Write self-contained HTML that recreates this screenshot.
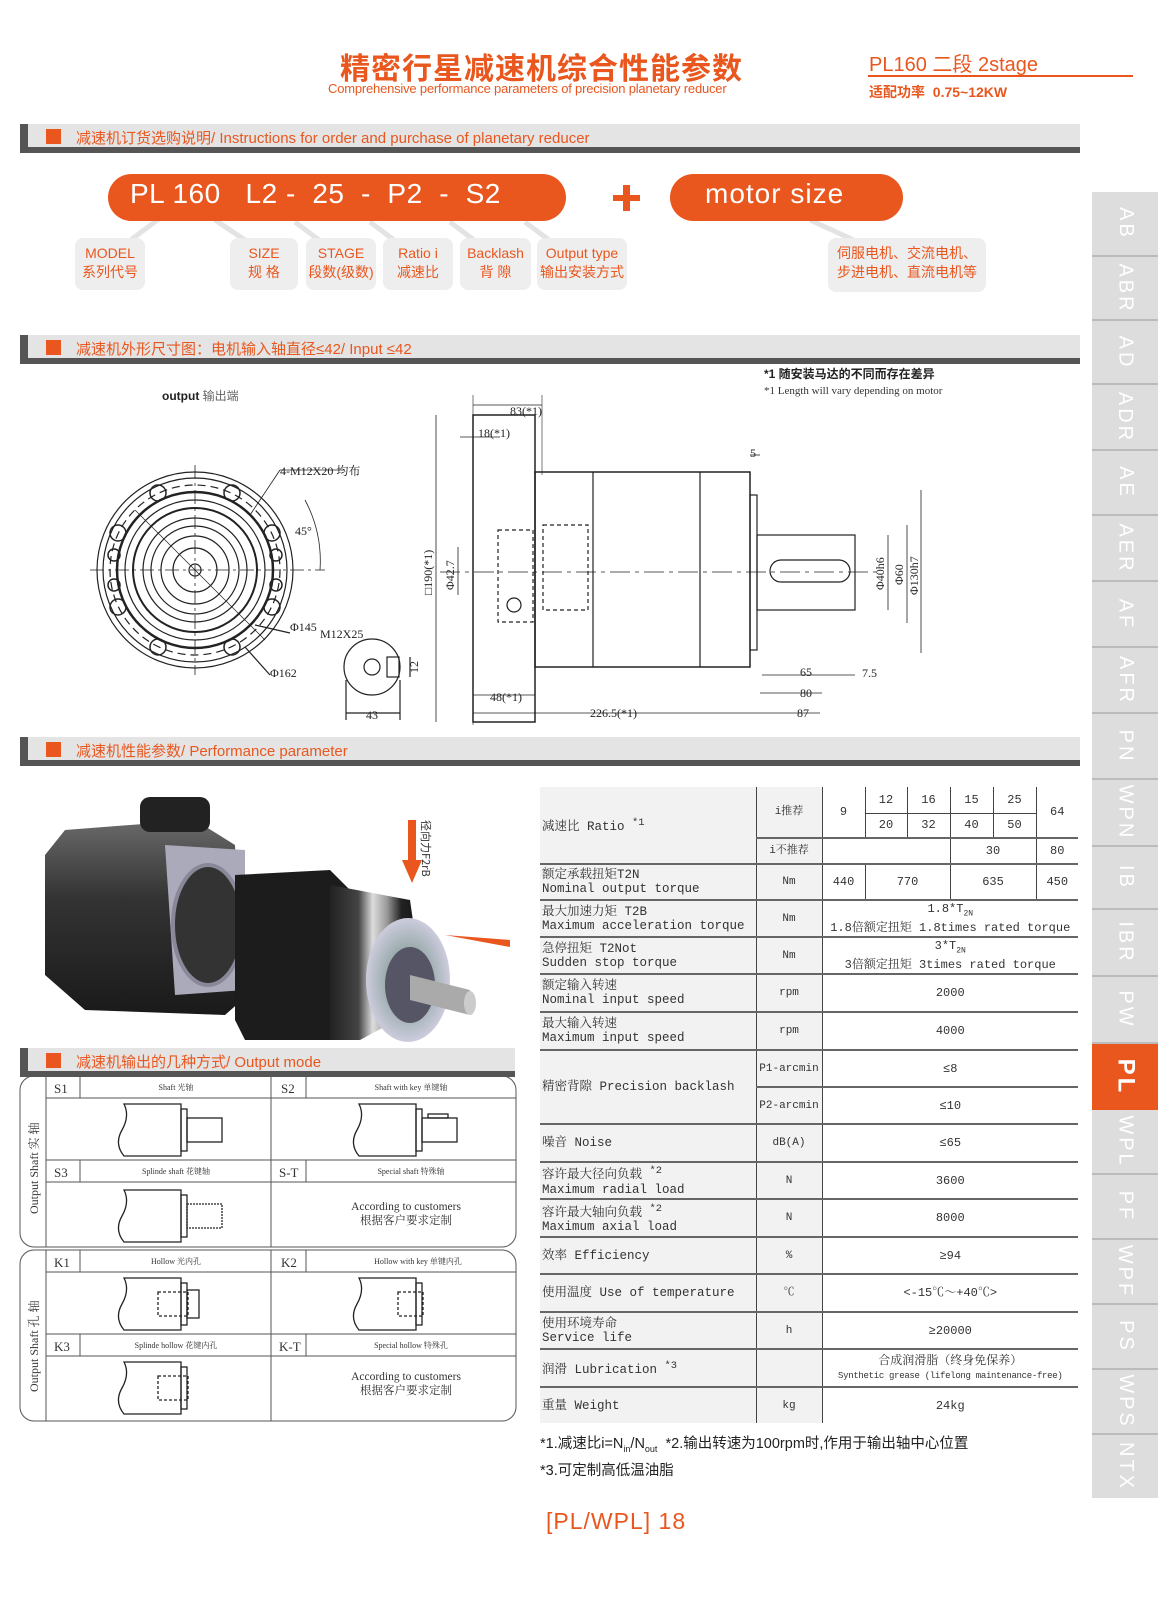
<!DOCTYPE html>
<html><head><meta charset="utf-8">
<style>
*{margin:0;padding:0;box-sizing:border-box}
body{width:1171px;height:1600px;background:#fff;position:relative;font-family:"Liberation Sans","Noto Sans CJK SC",sans-serif;overflow:hidden}
.a{position:absolute}
.or{color:#e9571f}
.sec{position:absolute;left:20px;width:1060px;height:30px}
.sec .bg{position:absolute;left:8px;right:0;top:0;height:24px;background:#e4e4e4}
.sec .ln{position:absolute;left:0;right:0;top:23px;height:6px;background:#555}
.sec .lt{position:absolute;left:0;top:0;width:8px;height:29px;background:#555}
.sec .sq{position:absolute;left:26px;top:5px;width:15px;height:15px;background:#e9571f}
.sec .tx{position:absolute;left:56px;top:3px;font-size:15px;color:#e9571f;white-space:nowrap}
.lbl{position:absolute;background:#eee;border-radius:8px;text-align:center;color:#e9571f;font-size:14px;line-height:19px;padding-top:6px}
.tab{position:absolute;left:1092px;width:66px;background:#ddd;border-bottom:2px solid #bbb;color:#fff;font-size:20px;display:flex;align-items:center;justify-content:center}
.tab span{transform:rotate(90deg);white-space:nowrap;letter-spacing:3px}
table.p{position:absolute;left:540px;top:787px;width:538px;border-collapse:collapse;table-layout:fixed;font-family:"Liberation Mono","Noto Serif CJK SC",monospace;font-size:12px;color:#333}
table.p td{border-top:2px solid #666;border-left:1px solid #444;text-align:center;padding:0 1px;line-height:14px;white-space:nowrap;overflow:hidden}
table.p td.l{text-align:left;background:#f2f2f2;border-left:none;font-size:12.5px;padding-left:2px}
table.p td.u{background:#f2f2f2;font-size:11px}
.ser{font-family:"Liberation Serif","Noto Serif CJK SC",serif}
</style></head><body>

<div class="a or" style="left:340px;top:44px;font-size:30px;font-weight:bold;font-family:'Noto Sans CJK SC',sans-serif;letter-spacing:1px">精密行星减速机综合性能参数</div>
<div class="a or" style="left:328px;top:81px;font-size:13px;letter-spacing:-0.2px">Comprehensive performance parameters of precision planetary reducer</div>
<div class="a or" style="left:869px;top:48px;font-size:20px">PL160 二段 2stage</div>
<div class="a" style="left:868px;top:75px;width:265px;height:2px;background:#e9571f"></div>
<div class="a or" style="left:869px;top:82px;font-size:14px;font-weight:bold">适配功率&nbsp; 0.75~12KW</div>

<div class="sec" style="top:124px"><div class="bg"></div><div class="ln"></div><div class="lt"></div><div class="sq"></div><div class="tx">减速机订货选购说明/ Instructions for order and purchase of planetary reducer</div></div>

<svg class="a" style="left:0;top:160px" width="1080" height="140">
 <g stroke="#e3e3e3" stroke-width="5" fill="none">
  <line x1="160" y1="58" x2="120" y2="88"/><line x1="215" y1="60" x2="260" y2="90"/>
  <line x1="295" y1="62" x2="335" y2="92"/><line x1="370" y1="62" x2="410" y2="92"/>
  <line x1="450" y1="62" x2="490" y2="92"/><line x1="525" y1="62" x2="565" y2="92"/>
  <line x1="810" y1="60" x2="880" y2="92"/>
 </g>
</svg>
<div class="a" style="left:108px;top:174px;width:458px;height:47px;background:#e9571f;border-radius:24px"></div>
<div class="a" style="left:130px;top:178px;font-size:28px;color:#fff;white-space:pre;letter-spacing:0.5px">PL 160   L2 -  25  -  P2  -  S2</div>
<div class="a" style="left:613px;top:195px;width:27px;height:6px;background:#e9571f"></div>
<div class="a" style="left:623px;top:185px;width:7px;height:26px;background:#e9571f"></div>
<div class="a" style="left:670px;top:174px;width:233px;height:47px;background:#e9571f;border-radius:24px"></div>
<div class="a" style="left:705px;top:178px;font-size:28px;color:#fff;letter-spacing:1px">motor size</div>
<div class="lbl" style="left:75px;top:238px;width:70px;height:52px">MODEL<br>系列代号</div>
<div class="lbl" style="left:230px;top:238px;width:68px;height:52px">SIZE<br>规 格</div>
<div class="lbl" style="left:306px;top:238px;width:70px;height:52px">STAGE<br>段数(级数)</div>
<div class="lbl" style="left:383px;top:238px;width:70px;height:52px">Ratio i<br>减速比</div>
<div class="lbl" style="left:460px;top:238px;width:71px;height:52px">Backlash<br>背 隙</div>
<div class="lbl" style="left:537px;top:238px;width:90px;height:52px">Output type<br>输出安装方式</div>
<div class="lbl" style="left:828px;top:238px;width:158px;height:54px">伺服电机、交流电机、<br>步进电机、直流电机等</div>

<div class="tab" style="top:192px;height:65px"><span>AB</span></div>
<div class="tab" style="top:257px;height:64px"><span>ABR</span></div>
<div class="tab" style="top:321px;height:64px"><span>AD</span></div>
<div class="tab" style="top:385px;height:66px"><span>ADR</span></div>
<div class="tab" style="top:451px;height:65px"><span>AE</span></div>
<div class="tab" style="top:516px;height:66px"><span>AER</span></div>
<div class="tab" style="top:582px;height:66px"><span>AF</span></div>
<div class="tab" style="top:648px;height:66px"><span>AFR</span></div>
<div class="tab" style="top:714px;height:66px"><span>PN</span></div>
<div class="tab" style="top:780px;height:67px"><span>WPN</span></div>
<div class="tab" style="top:847px;height:63px"><span>IB</span></div>
<div class="tab" style="top:910px;height:67px"><span>IBR</span></div>
<div class="tab" style="top:977px;height:67px"><span>PW</span></div>
<div class="tab" style="top:1044px;height:66px;background:#e9571f;border-bottom:none;font-size:24px;font-weight:bold"><span>PL</span></div>
<div class="tab" style="top:1110px;height:65px"><span>WPL</span></div>
<div class="tab" style="top:1175px;height:65px"><span>PF</span></div>
<div class="tab" style="top:1240px;height:65px"><span>WPF</span></div>
<div class="tab" style="top:1305px;height:65px"><span>PS</span></div>
<div class="tab" style="top:1370px;height:65px"><span>WPS</span></div>
<div class="tab" style="top:1435px;height:63px;border-bottom:none"><span>NTX</span></div>

<div class="sec" style="top:335px"><div class="bg"></div><div class="ln"></div><div class="lt"></div><div class="sq"></div><div class="tx">减速机外形尺寸图：电机输入轴直径≤42/ Input ≤42</div></div>

<div class="a" style="left:162px;top:387px;font-size:12px;font-weight:bold;color:#222">output <span style="font-weight:normal;color:#666">输出端</span></div>
<div class="a" style="left:764px;top:365px;font-size:12px;font-weight:bold;color:#222">*1 随安装马达的不同而存在差异</div>
<div class="a ser" style="left:764px;top:385px;font-size:11px;color:#333">*1 Length will vary depending on motor</div>
<svg class="a ser" style="left:0;top:395px" width="1000" height="335" font-size="12" fill="none" stroke="#222" stroke-width="1.2">
 <g transform="translate(195,175)">
  <circle r="98"/><circle r="92"/><circle r="78" stroke-width="2.5"/><circle r="70"/><circle r="62" stroke-width="2"/><circle r="52"/><circle r="44"/><circle r="34"/><circle r="22"/><circle r="6"/>
  <circle r="85" stroke-dasharray="8 5"/>
  <g stroke-width="1.5">
   <circle cx="-37" cy="-77" r="8"/><circle cx="37" cy="-77" r="8"/><circle cx="77" cy="-37" r="8"/><circle cx="77" cy="37" r="8"/>
   <circle cx="37" cy="77" r="8"/><circle cx="-37" cy="77" r="8"/><circle cx="-77" cy="37" r="8"/><circle cx="-77" cy="-37" r="8"/>
   <circle cx="-81" cy="-15" r="6"/><circle cx="-81" cy="15" r="6"/><circle cx="81" cy="-15" r="6"/><circle cx="81" cy="15" r="6"/>
  </g>
  <line x1="-105" y1="0" x2="130" y2="0" stroke-dasharray="14 4 3 4" stroke-width="0.8"/>
  <line x1="0" y1="-105" x2="0" y2="105" stroke-dasharray="14 4 3 4" stroke-width="0.8"/>
  <line x1="-60" y1="-60" x2="70" y2="70" stroke-width="0.7"/>
  <path d="M110 -70 A130 130 0 0 1 125 0" stroke-width="0.8"/>
 </g>
 <line x1="250" y1="120" x2="280" y2="75" stroke-width="0.8"/><line x1="280" y1="75" x2="345" y2="75" stroke-width="0.8"/>
 <line x1="255" y1="230" x2="290" y2="238"/><line x1="245" y1="252" x2="270" y2="280"/>
 <g fill="#222" stroke="none">
  <text x="280" y="80">4-M12X20 均布</text><text x="295" y="140">45°</text><text x="290" y="236">Φ145</text><text x="270" y="282">Φ162</text><text x="320" y="243">M12X25</text>
 </g>
 <circle cx="372" cy="272" r="28"/><circle cx="372" cy="272" r="8"/><rect x="387" y="262" width="12" height="20"/>
 <line x1="346" y1="285" x2="346" y2="325"/><line x1="400" y1="285" x2="400" y2="325"/><line x1="346" y1="318" x2="400" y2="318"/>
 <line x1="410" y1="262" x2="410" y2="282"/>
 <text x="366" y="324" fill="#222" stroke="none">43</text>
 <text x="418" y="278" fill="#222" stroke="none" transform="rotate(-90 418 278)">12</text>
 <rect x="473" y="20" width="62" height="307" stroke-width="1.5"/>
 <rect x="535" y="77" width="215" height="195" stroke-width="1.5"/>
 <line x1="593" y1="77" x2="593" y2="272"/><line x1="700" y1="77" x2="700" y2="272"/>
 <rect x="750" y="100" width="7" height="155"/>
 <rect x="757" y="140" width="98" height="75"/>
 <rect x="770" y="165" width="80" height="22" rx="11"/>
 <rect x="498" y="135" width="35" height="92" stroke-dasharray="4 3"/>
 <rect x="543" y="130" width="45" height="85" stroke-dasharray="4 3"/>
 <circle cx="514" cy="210" r="7"/>
 <line x1="440" y1="177" x2="880" y2="177" stroke-dasharray="20 5 4 5" stroke-width="0.8"/>
 <line x1="436" y1="20" x2="436" y2="327" stroke-width="0.8"/><line x1="458" y1="152" x2="458" y2="200" stroke-width="0.8"/>
 <line x1="888" y1="140" x2="888" y2="215" stroke-width="0.8"/><line x1="907" y1="130" x2="907" y2="228" stroke-width="0.8"/><line x1="921" y1="95" x2="921" y2="258" stroke-width="0.8"/>
 <line x1="473" y1="10" x2="542" y2="10" stroke-width="0.8"/><line x1="460" y1="42" x2="500" y2="42" stroke-width="0.8"/>
 <line x1="473" y1="0" x2="473" y2="330" stroke-width="0.6"/><line x1="542" y1="0" x2="542" y2="80" stroke-width="0.6"/>
 <line x1="473" y1="300" x2="535" y2="300" stroke-width="0.8"/><line x1="473" y1="318" x2="750" y2="318" stroke-width="0.8"/>
 <line x1="750" y1="318" x2="820" y2="318" stroke-width="0.8"/><line x1="760" y1="298" x2="822" y2="298" stroke-width="0.8"/>
 <line x1="762" y1="280" x2="855" y2="280" stroke-width="0.8"/><line x1="750" y1="60" x2="760" y2="60" stroke-width="0.8"/>
 <g fill="#222" stroke="none">
  <text x="510" y="20">83(*1)</text><text x="478" y="42">18(*1)</text><text x="750" y="62">5</text>
  <text x="490" y="306">48(*1)</text><text x="590" y="322">226.5(*1)</text><text x="797" y="322">87</text><text x="800" y="302">80</text><text x="800" y="281">65</text><text x="862" y="282">7.5</text>
  <text x="432" y="200" transform="rotate(-90 432 200)">□190(*1)</text><text x="454" y="195" transform="rotate(-90 454 195)">Φ42.7</text>
  <text x="884" y="195" transform="rotate(-90 884 195)">Φ40h6</text><text x="903" y="190" transform="rotate(-90 903 190)">Φ60</text><text x="918" y="200" transform="rotate(-90 918 200)">Φ130h7</text>
 </g>
</svg>

<div class="sec" style="top:737px"><div class="bg"></div><div class="ln"></div><div class="lt"></div><div class="sq"></div><div class="tx">减速机性能参数/ Performance parameter</div></div>

<svg class="a" style="left:30px;top:775px" width="490" height="270">
 <defs>
  <linearGradient id="m" x1="0" y1="0" x2="0" y2="1"><stop offset="0" stop-color="#6a6a6a"/><stop offset="0.4" stop-color="#333"/><stop offset="1" stop-color="#1a1a1a"/></linearGradient>
  <linearGradient id="c" x1="0" y1="0" x2="1" y2="0"><stop offset="0" stop-color="#222"/><stop offset="0.3" stop-color="#444"/><stop offset="0.45" stop-color="#ddd"/><stop offset="0.6" stop-color="#999"/><stop offset="0.75" stop-color="#222"/><stop offset="1" stop-color="#111"/></linearGradient>
  <radialGradient id="f"><stop offset="0" stop-color="#eee"/><stop offset="0.5" stop-color="#9aa"/><stop offset="1" stop-color="#ccd"/></radialGradient>
 </defs>
 <path d="M15 80 L35 55 L165 45 L205 70 L212 225 L195 240 L55 235 L15 200Z" fill="url(#m)"/>
 <rect x="110" y="22" width="70" height="35" rx="10" fill="#222"/>
 <path d="M135 70 L215 75 L215 215 L145 220 Z" fill="#aab"/>
 <ellipse cx="178" cy="150" rx="35" ry="60" fill="#333" stroke="#889" stroke-width="4"/>
 <path d="M205 100 L300 95 L320 115 L320 265 L215 265 L205 245Z" fill="#1c1c1c"/>
 <path d="M300 110 L380 125 L395 230 L330 265 L300 265Z" fill="url(#c)"/>
 <ellipse cx="378" cy="205" rx="42" ry="62" fill="url(#f)"/>
 <ellipse cx="380" cy="210" rx="25" ry="38" fill="#556" />
 <path d="M380 200 L440 215 L440 240 L380 225Z" fill="#aaa"/>
 <ellipse cx="440" cy="228" rx="6" ry="12" fill="#ccc"/>
 <path d="M378 45 L378 85 L372 85 L382 108 L392 85 L386 85 L386 45Z" fill="#e9571f"/>
 <path d="M415 160 L480 165 L480 172Z" fill="#e9571f"/>
 <text x="392" y="45" font-size="11" fill="#333" transform="rotate(90 392 45)" font-family="Noto Sans CJK SC">径向力F2rB</text>
</svg>

<div class="sec" style="top:1048px;width:495px"><div class="bg"></div><div class="ln"></div><div class="lt"></div><div class="sq"></div><div class="tx">减速机输出的几种方式/ Output mode</div></div>

<svg class="a ser" style="left:18px;top:1074px" width="500" height="350" fill="none" stroke="#555" stroke-width="1">
 <rect x="2" y="2" width="496" height="171" rx="14"/>
 <rect x="2" y="176" width="496" height="171" rx="14"/>
 <g stroke-width="1">
  <line x1="28" y1="2" x2="28" y2="173"/><line x1="28" y1="176" x2="28" y2="347"/>
  <line x1="253" y1="2" x2="253" y2="173"/><line x1="253" y1="176" x2="253" y2="347"/>
  <line x1="28" y1="24" x2="498" y2="24"/><line x1="28" y1="86" x2="498" y2="86"/><line x1="28" y1="108" x2="498" y2="108"/>
  <line x1="28" y1="198" x2="498" y2="198"/><line x1="28" y1="260" x2="498" y2="260"/><line x1="28" y1="282" x2="498" y2="282"/>
  <line x1="62" y1="2" x2="62" y2="24"/><line x1="62" y1="86" x2="62" y2="108"/><line x1="62" y1="176" x2="62" y2="198"/><line x1="62" y1="260" x2="62" y2="282"/>
  <line x1="288" y1="2" x2="288" y2="24"/><line x1="288" y1="86" x2="288" y2="108"/><line x1="288" y1="176" x2="288" y2="198"/><line x1="288" y1="260" x2="288" y2="282"/>
 </g>
 <g stroke="#222" stroke-width="1.3">
  <path d="M106 30 L163 30 L163 82 L106 82 Q96 70 104 56 Q112 42 106 30Z"/>
  <rect x="163" y="35" width="6" height="42"/><rect x="169" y="44" width="35" height="24"/>
  <g transform="translate(235,0)"><path d="M106 30 L163 30 L163 82 L106 82 Q96 70 104 56 Q112 42 106 30Z"/><rect x="163" y="35" width="6" height="42"/><rect x="169" y="44" width="35" height="24"/><rect x="175" y="40" width="20" height="4"/></g>
  <g transform="translate(0,86)"><path d="M106 30 L163 30 L163 82 L106 82 Q96 70 104 56 Q112 42 106 30Z"/><rect x="163" y="35" width="6" height="42"/><rect x="169" y="44" width="35" height="24" stroke-dasharray="2 1"/></g>
  <g transform="translate(0,174)"><path d="M106 30 L163 30 L163 82 L106 82 Q96 70 104 56 Q112 42 106 30Z"/><rect x="163" y="35" width="6" height="42"/><rect x="169" y="42" width="12" height="28"/><rect x="140" y="44" width="30" height="24" stroke-dasharray="3 2"/></g>
  <g transform="translate(235,174)"><path d="M106 30 L163 30 L163 82 L106 82 Q96 70 104 56 Q112 42 106 30Z"/><rect x="163" y="35" width="6" height="42"/><rect x="145" y="44" width="25" height="24" stroke-dasharray="3 2"/></g>
  <g transform="translate(0,258)"><path d="M106 30 L163 30 L163 82 L106 82 Q96 70 104 56 Q112 42 106 30Z"/><rect x="163" y="35" width="6" height="42"/><rect x="140" y="44" width="30" height="24" stroke-dasharray="3 2"/></g>
 </g>
 <g fill="#333" stroke="none" font-size="13">
  <text x="36" y="19">S1</text><text x="263" y="19">S2</text><text x="36" y="103">S3</text><text x="261" y="103">S-T</text>
  <text x="36" y="193">K1</text><text x="263" y="193">K2</text><text x="36" y="277">K3</text><text x="261" y="277">K-T</text>
  <g font-size="8" text-anchor="middle"><text x="158" y="16">Shaft 光轴</text><text x="393" y="16">Shaft with key 单键轴</text><text x="158" y="100">Splinde shaft 花键轴</text><text x="393" y="100">Special shaft 特殊轴</text>
  <text x="158" y="190">Hollow 光内孔</text><text x="400" y="190">Hollow with key 单键内孔</text><text x="158" y="274">Splinde hollow 花键内孔</text><text x="393" y="274">Special hollow 特殊孔</text></g>
  <g font-size="11.5" text-anchor="middle"><text x="388" y="136">According to customers</text><text x="388" y="150">根据客户要求定制</text>
  <text x="388" y="306">According to customers</text><text x="388" y="320">根据客户要求定制</text></g>
  <text x="20" y="140" font-size="12" transform="rotate(-90 20 140)">Output Shaft 实 轴</text>
  <text x="20" y="318" font-size="12" transform="rotate(-90 20 318)">Output Shaft 孔 轴</text>
 </g>
</svg>

<table class="p">
<colgroup><col style="width:216px"><col style="width:66px"><col style="width:43px"><col style="width:42px"><col style="width:43px"><col style="width:43px"><col style="width:43px"><col style="width:42px"></colgroup>
<tr style="height:26px"><td class="l" rowspan="3" style="border-top:none">减速比 Ratio <sup>*1</sup></td><td class="u" rowspan="2" style="border-top:none">i推荐</td><td rowspan="2" style="border-top:none">9</td><td style="border-top:none">12</td><td style="border-top:none">16</td><td style="border-top:none">15</td><td style="border-top:none">25</td><td rowspan="2" style="border-top:none">64</td></tr>
<tr style="height:25px"><td style="border-top:1px solid #444">20</td><td style="border-top:1px solid #444">32</td><td style="border-top:1px solid #444">40</td><td style="border-top:1px solid #444">50</td></tr>
<tr style="height:26px"><td class="u">i不推荐</td><td colspan="3"></td><td colspan="2">30</td><td>80</td></tr>
<tr style="height:36px"><td class="l">额定承载扭矩T2N<br>Nominal output torque</td><td class="u">Nm</td><td>440</td><td colspan="2">770</td><td colspan="2">635</td><td>450</td></tr>
<tr style="height:37px"><td class="l">最大加速力矩 T2B<br>Maximum acceleration torque</td><td class="u">Nm</td><td colspan="6">1.8*T<sub style="font-size:8px">2N</sub><br>1.8倍额定扭矩 1.8times rated torque</td></tr>
<tr style="height:37px"><td class="l">急停扭矩 T2Not<br>Sudden stop torque</td><td class="u">Nm</td><td colspan="6">3*T<sub style="font-size:8px">2N</sub><br>3倍额定扭矩 3times rated torque</td></tr>
<tr style="height:38px"><td class="l">额定输入转速<br>Nominal input speed</td><td class="u">rpm</td><td colspan="6">2000</td></tr>
<tr style="height:38px"><td class="l">最大输入转速<br>Maximum input speed</td><td class="u">rpm</td><td colspan="6">4000</td></tr>
<tr style="height:37px"><td class="l" rowspan="2">精密背隙 Precision backlash</td><td class="u">P1-arcmin</td><td colspan="6">≤8</td></tr>
<tr style="height:37px"><td class="u">P2-arcmin</td><td colspan="6">≤10</td></tr>
<tr style="height:38px"><td class="l">噪音 Noise</td><td class="u">dB(A)</td><td colspan="6">≤65</td></tr>
<tr style="height:37px"><td class="l">容许最大径向负载 <sup>*2</sup><br>Maximum radial load</td><td class="u">N</td><td colspan="6">3600</td></tr>
<tr style="height:38px"><td class="l">容许最大轴向负载 <sup>*2</sup><br>Maximum axial load</td><td class="u">N</td><td colspan="6">8000</td></tr>
<tr style="height:37px"><td class="l">效率 Efficiency</td><td class="u">%</td><td colspan="6">≥94</td></tr>
<tr style="height:38px"><td class="l">使用温度 Use of temperature</td><td class="u">℃</td><td colspan="6">&lt;-15℃～+40℃&gt;</td></tr>
<tr style="height:37px"><td class="l">使用环境寿命<br>Service life</td><td class="u">h</td><td colspan="6">≥20000</td></tr>
<tr style="height:38px"><td class="l">润滑 Lubrication <sup>*3</sup></td><td class="u"></td><td colspan="6">合成润滑脂（终身免保养）<br><span style="font-size:9px;letter-spacing:-0.3px">Synthetic grease (lifelong maintenance-free)</span></td></tr>
<tr style="height:36px"><td class="l">重量 Weight</td><td class="u">kg</td><td colspan="6">24kg</td></tr>
</table>

<div class="a" style="left:540px;top:1432px;font-size:14.5px;color:#222;white-space:nowrap">*1.减速比i=N<sub style="font-size:9px">in</sub>/N<sub style="font-size:9px">out</sub> &nbsp;*2.输出转速为100rpm时,作用于输出轴中心位置</div>
<div class="a" style="left:540px;top:1459px;font-size:14.5px;color:#222">*3.可定制高低温油脂</div>
<div class="a or" style="left:546px;top:1508px;font-size:23px;letter-spacing:1px">[PL/WPL] 18</div>
</body></html>
